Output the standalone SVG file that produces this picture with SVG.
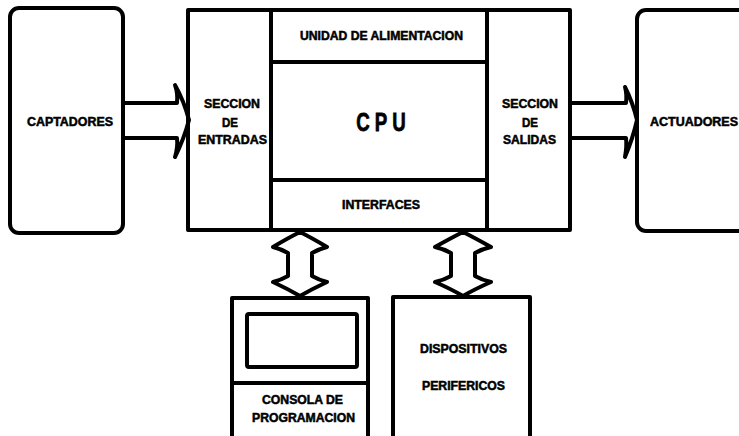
<svg xmlns="http://www.w3.org/2000/svg" width="739" height="436" viewBox="0 0 739 436">
<style>
.box{fill:none;stroke:#000;stroke-width:4;stroke-linejoin:round}
.arr{fill:#fff;stroke:#000;stroke-width:4;stroke-linejoin:round}
.t{font-family:"Liberation Sans",Arial,sans-serif;font-weight:bold;font-size:12px;fill:#000;stroke:#000;stroke-width:0.5;text-anchor:middle}
.big{font-size:26px;stroke-width:0.8}
</style>
<rect width="739" height="436" fill="#fff"/>
<g id="connectors">
<path class="arr" d="M123,103 H177 Q178,93 175,85 Q184,101 189,120 Q184,139 175,157 Q178,147 177,138 H123"/>
<path class="arr" d="M570,103 H626 Q627,94 625,87 Q633,103 637,120 Q633,138 625,157 Q627,146 626,138 H570"/>
<path class="arr" d="M288,253 Q281,249 273,247 Q288,238 300,232 Q312,238 327,247 Q319,249 312,253 V276 Q319,280 327,282 Q312,289 300,296 Q288,289 273,282 Q281,280 288,276 Z"/>
<path class="arr" d="M451,253 Q444,249 435,247 Q451,238 463,232 Q475,238 491,247 Q482,249 475,253 V276 Q482,280 491,282 Q475,289 463,296 Q451,289 435,282 Q444,280 451,276 Z"/>
</g>
<g id="captadores">
<rect class="box" x="10" y="8" width="113" height="225" rx="9"/>
<text class="t" x="70" y="126" textLength="86" lengthAdjust="spacingAndGlyphs">CAPTADORES</text>
</g>
<g id="plc">
<rect class="box" x="188" y="10" width="382" height="220"/>
<line class="box" x1="271" y1="10" x2="271" y2="230"/>
<line class="box" x1="487" y1="10" x2="487" y2="230"/>
<line class="box" x1="271" y1="62" x2="487" y2="62"/>
<line class="box" x1="271" y1="180" x2="487" y2="180"/>
</g>
<g id="entradas">
<text class="t" x="232" y="107.5" textLength="56" lengthAdjust="spacingAndGlyphs">SECCION</text>
<text class="t" x="230" y="126.5" textLength="16" lengthAdjust="spacingAndGlyphs">DE</text>
<text class="t" x="232.5" y="143.5" textLength="69" lengthAdjust="spacingAndGlyphs">ENTRADAS</text>
</g>
<g id="alimentacion">
<text class="t" x="381.5" y="40" textLength="163" lengthAdjust="spacingAndGlyphs">UNIDAD DE ALIMENTACION</text>
</g>
<g id="cpu">
<text class="t big" transform="translate(381,131) scale(0.72,1)" x="-25 0 25" y="0">CPU</text>
</g>
<g id="interfaces">
<text class="t" x="381" y="208.5" textLength="78" lengthAdjust="spacingAndGlyphs">INTERFACES</text>
</g>
<g id="salidas">
<text class="t" x="530" y="108" textLength="56" lengthAdjust="spacingAndGlyphs">SECCION</text>
<text class="t" x="530" y="126.5" textLength="16" lengthAdjust="spacingAndGlyphs">DE</text>
<text class="t" x="529.5" y="144" textLength="53" lengthAdjust="spacingAndGlyphs">SALIDAS</text>
</g>
<g id="actuadores">
<rect class="box" x="637" y="10" width="110" height="221" rx="9"/>
<text class="t" x="694" y="126" textLength="88" lengthAdjust="spacingAndGlyphs">ACTUADORES</text>
</g>
<g id="consola">
<rect class="box" x="232" y="298" width="136" height="145"/>
<rect class="box" x="247" y="314" width="110" height="53" rx="2"/>
<line class="box" x1="232" y1="383" x2="368" y2="383"/>
<text class="t" x="302.5" y="403.5" textLength="81" lengthAdjust="spacingAndGlyphs">CONSOLA DE</text>
<text class="t" x="303.5" y="422" textLength="103" lengthAdjust="spacingAndGlyphs">PROGRAMACION</text>
</g>
<g id="perifericos">
<rect class="box" x="393" y="297" width="137" height="146"/>
<text class="t" x="463.5" y="353" textLength="87" lengthAdjust="spacingAndGlyphs">DISPOSITIVOS</text>
<text class="t" x="463.5" y="389.5" textLength="83" lengthAdjust="spacingAndGlyphs">PERIFERICOS</text>
</g>
</svg>
